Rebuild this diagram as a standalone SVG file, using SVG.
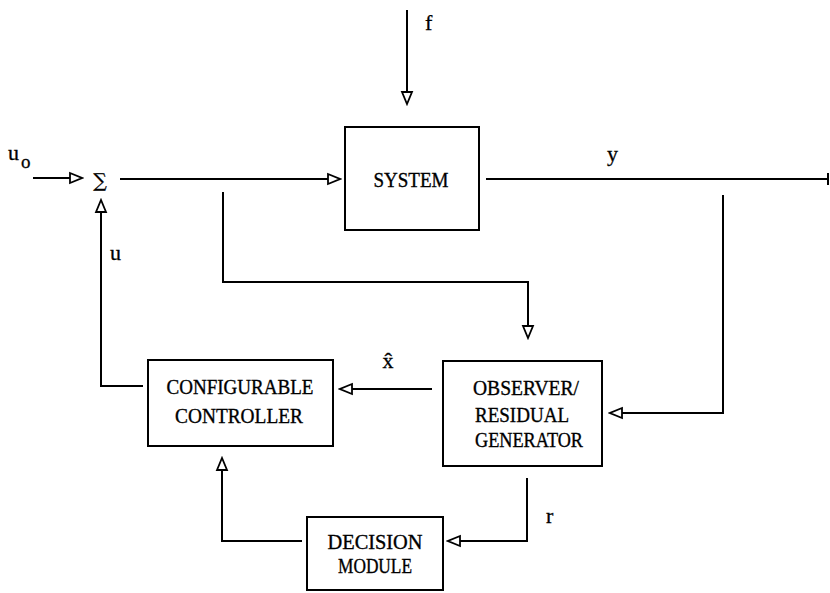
<svg xmlns="http://www.w3.org/2000/svg" width="830" height="593" viewBox="0 0 830 593">
<defs>
<marker id="ah" markerUnits="userSpaceOnUse" markerWidth="16" markerHeight="14" viewBox="-2 -2 16 14" refX="0" refY="5" orient="auto">
<path d="M0,0 L12,5 L0,10 Z" fill="#fff" stroke="#000" stroke-width="1.8" stroke-linejoin="miter"/>
</marker>
</defs>
<style>
.box{fill:#fff;stroke:#000;stroke-width:2}
.ln{fill:none;stroke:#000;stroke-width:2}
.t{font-family:"Liberation Serif","DejaVu Serif",serif;font-size:21px;fill:#000;stroke:#000;stroke-width:0.35}
.lbl{font-family:"Liberation Serif","DejaVu Serif",serif;font-size:22px;fill:#000;stroke:#000;stroke-width:0.3}
</style>
<rect width="830" height="593" fill="#fff"/>
<g id="connectors">
<path class="ln" d="M33,178 H70" marker-end="url(#ah)"/>
<path class="ln" d="M120,179 H328" marker-end="url(#ah)"/>
<path class="ln" d="M407,10 V92" marker-end="url(#ah)"/>
<path class="ln" d="M486,179 H828 M828,173 V185"/>
<path class="ln" d="M223,192 V282 H528 V326" marker-end="url(#ah)"/>
<path class="ln" d="M723,195 V413 H622" marker-end="url(#ah)"/>
<path class="ln" d="M432,389 H352" marker-end="url(#ah)"/>
<path class="ln" d="M143,386 H101 V212" marker-end="url(#ah)"/>
<path class="ln" d="M527,478 V541 H460" marker-end="url(#ah)"/>
<path class="ln" d="M302,541 H222 V470" marker-end="url(#ah)"/>
</g>
<g id="labels">
<text class="lbl" x="8" y="160">u</text>
<text class="lbl" x="21" y="168" style="font-size:19px">o</text>
<text class="lbl" x="425" y="30">f</text>
<text class="lbl" x="607" y="161">y</text>
<text class="lbl" x="110" y="260">u</text>
<text class="lbl" x="388" y="368" text-anchor="middle">x̂</text>
<text class="lbl" x="546" y="523">r</text>
</g>
<g id="sum">
<text x="100" y="187" text-anchor="middle" style="font-family:'DejaVu Serif',serif;font-size:19px;stroke:#000;stroke-width:0.3">∑</text>
</g>
<g id="system">
<rect class="box" x="345" y="127" width="134" height="103"/>
<text class="t" x="411" y="187" text-anchor="middle" textLength="75" lengthAdjust="spacingAndGlyphs">SYSTEM</text>
</g>
<g id="controller">
<rect class="box" x="148" y="360" width="185" height="86"/>
<text class="t" x="240" y="394" text-anchor="middle" textLength="147" lengthAdjust="spacingAndGlyphs">CONFIGURABLE</text>
<text class="t" x="239" y="423" text-anchor="middle" textLength="128" lengthAdjust="spacingAndGlyphs">CONTROLLER</text>
</g>
<g id="observer">
<rect class="box" x="443" y="361" width="159" height="105"/>
<text class="t" x="473" y="395" textLength="106" lengthAdjust="spacingAndGlyphs">OBSERVER/</text>
<text class="t" x="475" y="422" textLength="94" lengthAdjust="spacingAndGlyphs">RESIDUAL</text>
<text class="t" x="475" y="447" textLength="108" lengthAdjust="spacingAndGlyphs">GENERATOR</text>
</g>
<g id="decision">
<rect class="box" x="307" y="517" width="136" height="73"/>
<text class="t" x="375" y="549" text-anchor="middle" textLength="95" lengthAdjust="spacingAndGlyphs">DECISION</text>
<text class="t" x="375" y="573" text-anchor="middle" textLength="74" lengthAdjust="spacingAndGlyphs">MODULE</text>
</g>
</svg>
